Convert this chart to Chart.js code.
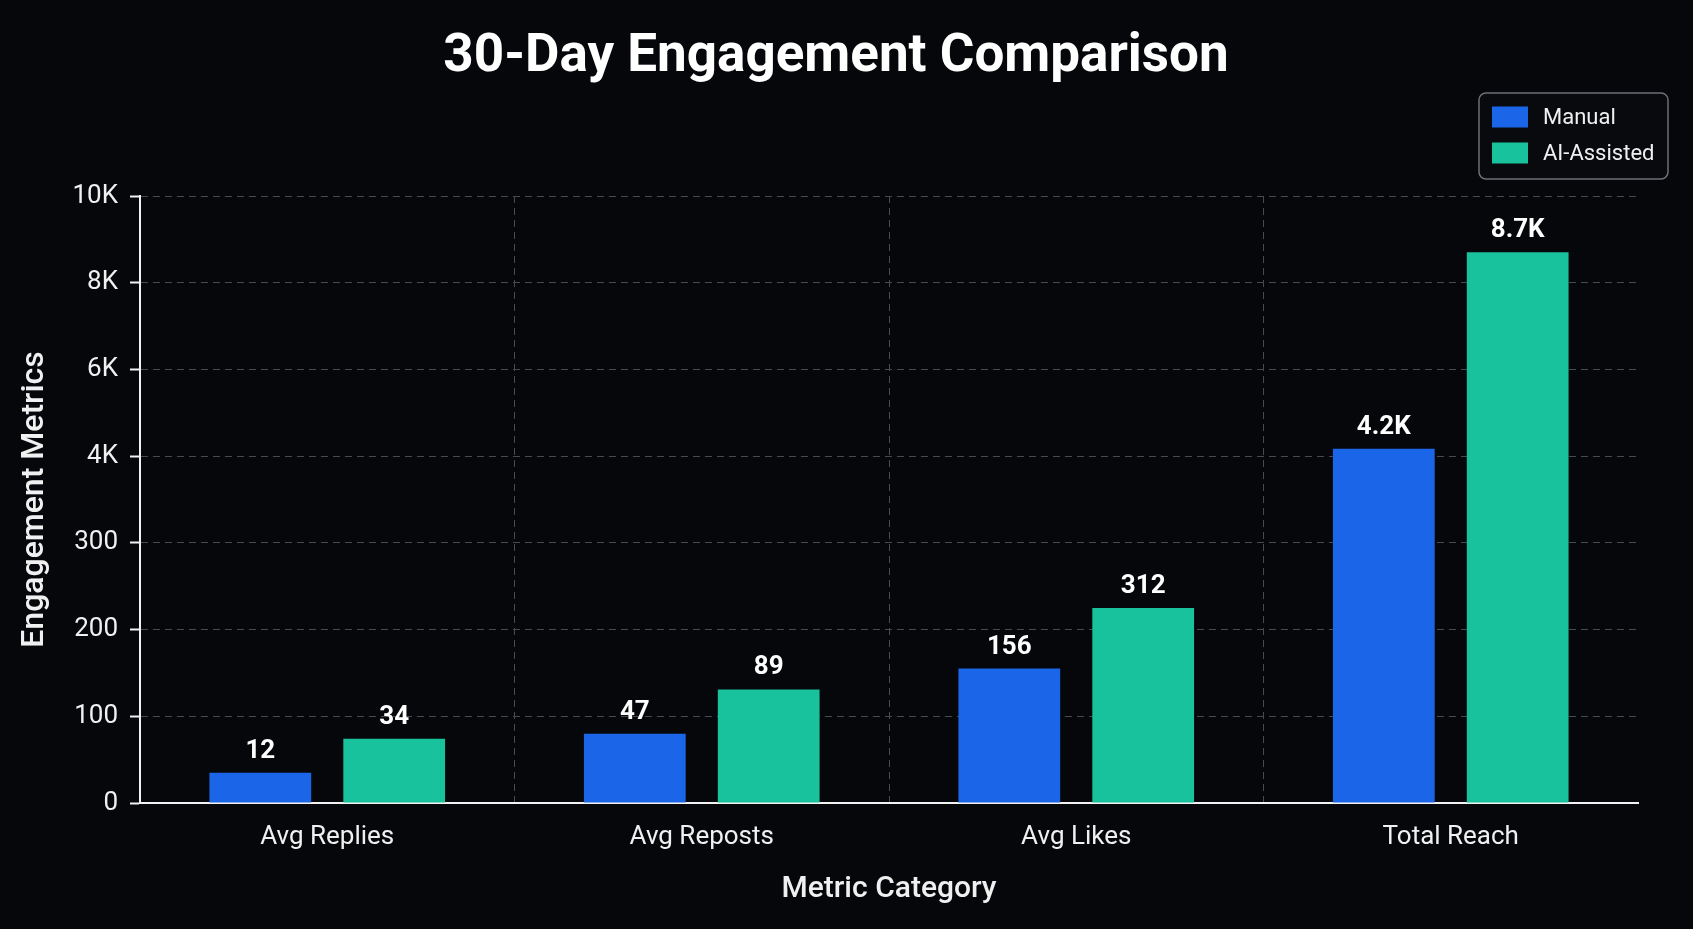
<!DOCTYPE html>
<html><head><meta charset="utf-8">
<script src="https://cdn.jsdelivr.net/npm/chart.js@4.4.1/dist/chart.umd.min.js"></script>
<style>html,body{margin:0;padding:0;background:#05070b;overflow:hidden;} canvas{display:block;}</style>
</head><body>
<canvas id="c" width="1693" height="929"></canvas>
<script>
// ---- data ----
const chartTitle = '30-Day Engagement Comparison';
const categories = ['Avg Replies', 'Avg Reposts', 'Avg Likes', 'Total Reach'];
const seriesNames = ['Manual', 'AI-Assisted'];
const seriesColors = ['#1b66e8', '#18c29c'];
// bar heights as read against the (piecewise) y axis
const manualValues = [35, 80, 155, 4170];
const aiValues = [74, 131, 225, 8700];
// value labels printed above the bars
const manualLabels = ['12', '47', '156', '4.2K'];
const aiLabels = ['34', '89', '312', '8.7K'];
// y axis ticks (evenly spaced on the picture)
const yTickValues = [0, 100, 200, 300, 4000, 6000, 8000, 10000];
const yTickLabels = ['0', '100', '200', '300', '4K', '6K', '8K', '10K'];
const xTitle = 'Metric Category';
const yTitle = 'Engagement Metrics';

// piecewise axis: each tick interval occupies one unit
function toAxis(v) {
  for (let i = 0; i < yTickValues.length - 1; i++) {
    const a = yTickValues[i], b = yTickValues[i + 1];
    if (v <= b) return i + (v - a) / (b - a);
  }
  return yTickValues.length - 1;
}

const BG = '#05070b';
const TXT = '#f0f0f0';
const GRID = '#474a4f';
const FONT = 'Roboto, "Noto Sans", sans-serif';

const bgPlugin = {
  id: 'bg',
  beforeDraw(chart) {
    const c = chart.ctx;
    c.save(); c.fillStyle = BG; c.fillRect(0, 0, chart.width, chart.height); c.restore();
  }
};

const decorPlugin = {
  id: 'decor',
  afterDatasetsDraw(chart) {
    const c = chart.ctx;
    c.save();
    c.fillStyle = '#ffffff';
    c.font = 'bold 26px ' + FONT;
    c.textAlign = 'center';
    c.textBaseline = 'alphabetic';
    [manualLabels, aiLabels].forEach((labels, di) => {
      chart.getDatasetMeta(di).data.forEach((bar, i) => {
        c.fillText(labels[i], bar.x, bar.y - 15);
      });
    });
    c.restore();
  },
  afterDraw(chart) {
    const c = chart.ctx;
    c.save();
    // title
    c.fillStyle = '#ffffff';
    c.font = 'bold 53px ' + FONT;
    c.textAlign = 'center';
    c.textBaseline = 'middle';
    c.fillText(chartTitle, 836, 58);
    // legend
    const bx = 1479, by = 93, bw = 189, bh = 86, r = 7;
    c.beginPath();
    c.moveTo(bx + r, by);
    c.arcTo(bx + bw, by, bx + bw, by + bh, r);
    c.arcTo(bx + bw, by + bh, bx, by + bh, r);
    c.arcTo(bx, by + bh, bx, by, r);
    c.arcTo(bx, by, bx + bw, by, r);
    c.closePath();
    c.fillStyle = '#080a0e';
    c.fill();
    c.lineWidth = 1.5;
    c.strokeStyle = '#6e7075';
    c.stroke();
    c.font = '22px ' + FONT;
    c.textAlign = 'left';
    c.textBaseline = 'middle';
    seriesNames.forEach((n, i) => {
      const cy = 117 + i * 36;
      c.fillStyle = seriesColors[i];
      c.fillRect(1492, cy - 10.5, 36, 21);
      c.fillStyle = TXT;
      c.fillText(n, 1543, cy + 1);
    });
    c.restore();
  }
};

new Chart(document.getElementById('c'), {
  type: 'bar',
  data: {
    labels: categories,
    datasets: [
      { label: seriesNames[0], data: manualValues.map(toAxis), backgroundColor: seriesColors[0],
        categoryPercentage: 0.715, barPercentage: 0.76 },
      { label: seriesNames[1], data: aiValues.map(toAxis), backgroundColor: seriesColors[1],
        categoryPercentage: 0.715, barPercentage: 0.76 }
    ]
  },
  options: {
    responsive: false,
    animation: false,
    devicePixelRatio: 1,
    layout: { padding: { top: 196, right: 55, bottom: 0, left: 0 } },
    plugins: { legend: { display: false }, title: { display: false }, tooltip: { enabled: false } },
    scales: {
      x: {
        afterFit(s) { s.height = 126; },
        grid: {
          display: true, offset: true, drawTicks: false, lineWidth: 1,
          color: (ctx) => (ctx.type !== 'tick' || ctx.index === 0) ? 'rgba(0,0,0,0)' : GRID
        },
        border: { display: true, color: '#f2f2f2', width: 2, dash: [7, 5] },
        ticks: { color: TXT, font: { family: FONT, size: 26 }, padding: 19 },
        title: { display: true, text: xTitle, color: '#f0f0f0', font: { family: FONT, size: 30, weight: '500' },
                 padding: { top: 0, bottom: 22 } }
      },
      y: {
        min: 0, max: yTickValues.length - 1,
        afterFit(s) { s.width = 140; },
        grid: {
          color: GRID, lineWidth: 1, drawTicks: true, tickLength: 10,
          tickColor: '#f2f2f2', tickWidth: 2, tickBorderDash: []
        },
        border: { display: true, color: '#f2f2f2', width: 2, dash: [7, 5] },
        ticks: {
          stepSize: 1, color: TXT, font: { family: FONT, size: 26 }, padding: 12,
          callback: (v) => yTickLabels[v]
        },
        title: { display: true, text: yTitle, color: '#f0f0f0', font: { family: FONT, size: 32, weight: '500' },
                 padding: { top: 16, bottom: 0 } }
      }
    }
  },
  plugins: [bgPlugin, decorPlugin]
});
</script>
</body></html>
